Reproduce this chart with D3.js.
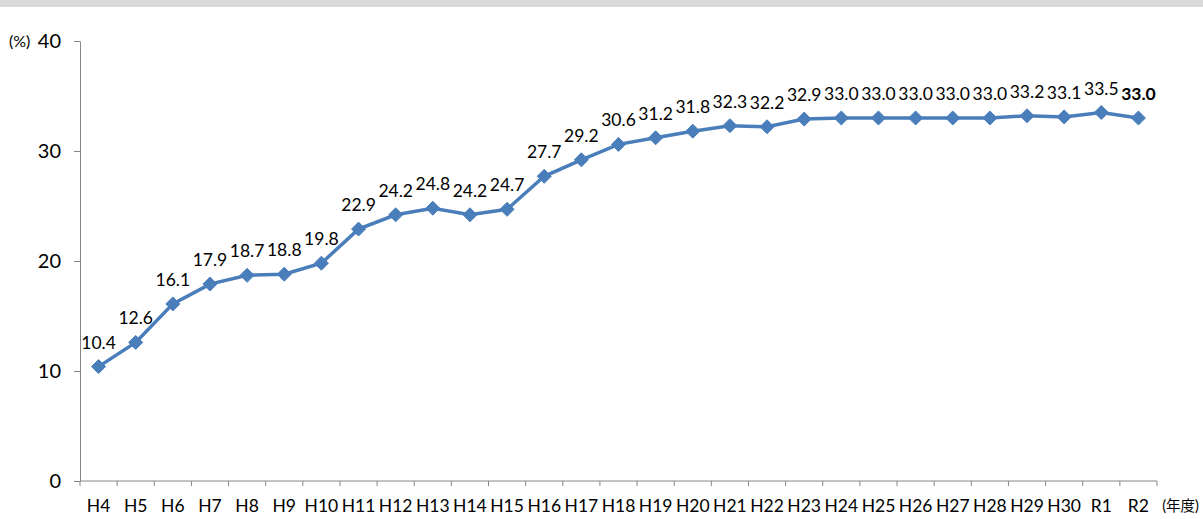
<!DOCTYPE html>
<html>
<head>
<meta charset="utf-8">
<script src="https://cdn.jsdelivr.net/npm/d3@7"></script>
<style>
  body { margin: 0; background: #fff; }
  svg { display: block; font-family: Lato, "Noto Sans CJK JP", sans-serif; }
</style>
</head>
<body>
<div id="chart"></div>
<script>
const years = ["H4","H5","H6","H7","H8","H9","H10","H11","H12","H13","H14","H15","H16","H17","H18","H19","H20","H21","H22","H23","H24","H25","H26","H27","H28","H29","H30","R1","R2"];
const rates = [10.4,12.6,16.1,17.9,18.7,18.8,19.8,22.9,24.2,24.8,24.2,24.7,27.7,29.2,30.6,31.2,31.8,32.3,32.2,32.9,33.0,33.0,33.0,33.0,33.0,33.2,33.1,33.5,33.0];
const yTicks = [0, 10, 20, 30, 40];

const W = 1203, H = 519;
const margin = { top: 41, right: 46, bottom: 38, left: 80 };

const svg = d3.select("#chart").append("svg")
  .attr("width", W)
  .attr("height", H);

// grey band at the very top
svg.append("rect").attr("x", 0).attr("y", 0).attr("width", W).attr("height", 7).attr("fill", "#d9d9d9");

const x = d3.scaleBand().domain(years).range([margin.left, W - margin.right]);
const y = d3.scaleLinear().domain([0, 40]).range([H - margin.bottom, margin.top]);

// y axis
const yAxis = svg.append("g")
  .attr("transform", `translate(${margin.left},0)`)
  .call(d3.axisLeft(y).tickValues(yTicks).tickSize(6).tickPadding(13).tickSizeOuter(0));
yAxis.select(".domain").attr("stroke", "#868686");
yAxis.selectAll(".tick line").attr("stroke", "#868686");
yAxis.selectAll(".tick text").attr("font-size", 20).attr("fill", "#000").attr("font-family", "Lato");

svg.append("text")
  .attr("x", 9).attr("y", y(40) + 6)
  .attr("font-size", 16).text("(%)");

// x axis: ticks sit on band edges
const edges = years.map(d => x(d)).concat([x.range()[1]]);
const xg = svg.append("g").attr("transform", `translate(0,${y(0)})`);
xg.append("line")
  .attr("x1", margin.left).attr("x2", W - margin.right)
  .attr("stroke", "#868686");
xg.selectAll("line.tk").data(edges).enter().append("line")
  .attr("class", "tk")
  .attr("x1", d => d).attr("x2", d => d)
  .attr("y1", 0).attr("y2", 5)
  .attr("stroke", "#868686");
xg.selectAll("text").data(years).enter().append("text")
  .attr("x", d => x(d) + x.bandwidth() / 2)
  .attr("y", 31)
  .attr("text-anchor", "middle")
  .attr("font-size", 17.5)
  .text(d => d);

svg.append("text")
  .attr("x", W - 4).attr("y", y(0) + 30)
  .attr("text-anchor", "end")
  .attr("font-size", 14.5).text("(年度)");

// line + markers
const cx = (d, i) => x(years[i]) + x.bandwidth() / 2;
const line = d3.line().x(cx).y(d => y(d));

svg.append("path")
  .datum(rates)
  .attr("d", line)
  .attr("fill", "none")
  .attr("stroke", "#4a7ebb")
  .attr("stroke-width", 3.5);

svg.selectAll("path.mk").data(rates).enter().append("path")
  .attr("class", "mk")
  .attr("d", d3.symbol(d3.symbolDiamond2, 125))
  .attr("transform", (d, i) => `translate(${cx(d, i)},${y(d)})`)
  .attr("fill", "#4a7ebb")
  .attr("stroke", "#4a7ebb")
  .attr("stroke-width", 1);

svg.selectAll("text.lbl").data(rates).enter().append("text")
  .attr("class", "lbl")
  .attr("x", cx)
  .attr("y", d => y(d) - 18)
  .attr("text-anchor", "middle")
  .attr("font-size", 17.5)
  .attr("font-weight", (d, i) => i === rates.length - 1 ? "bold" : null)
  .text(d => d.toFixed(1));
</script>
</body>
</html>
